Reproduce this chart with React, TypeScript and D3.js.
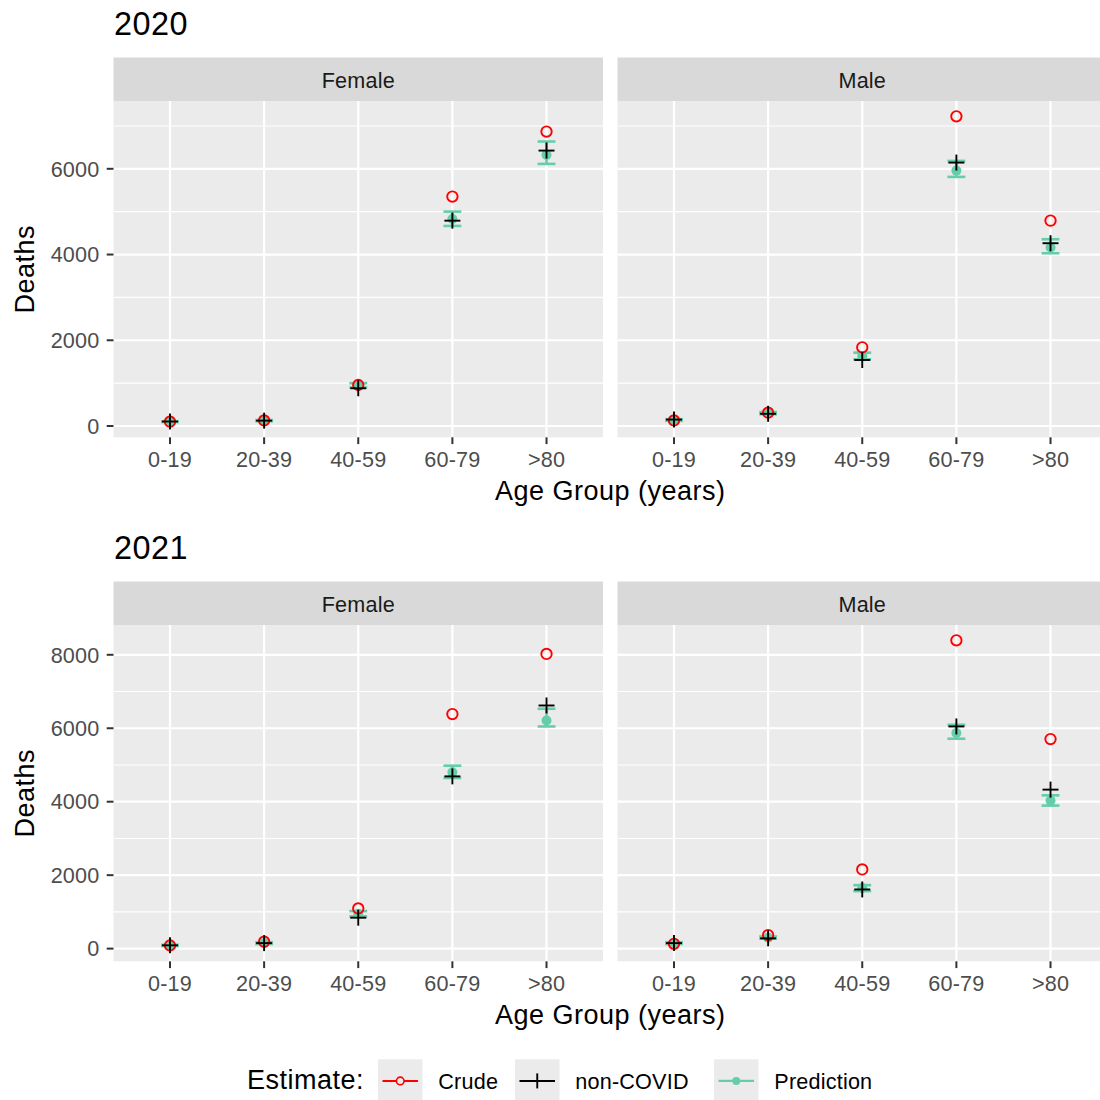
import React from "react";
import * as d3 from "d3";

const ageGroups = ["0-19", "20-39", "40-59", "60-79", ">80"];
const sexes = ["Female", "Male"];
const years = ["2020", "2021"];

// 2020
const crude2020Female = [100, 130, 957, 5352, 6869];
const nonCovid2020Female = [105, 125, 880, 4790, 6425];
const pred2020Female = [100, 125, 950, 4830, 6324];
const predLo2020Female = [93, 110, 900, 4667, 6114];
const predHi2020Female = [108, 140, 1000, 5001, 6636];

const crude2020Male = [130, 311, 1836, 7225, 4791];
const nonCovid2020Male = [150, 285, 1540, 6145, 4264];
const pred2020Male = [140, 300, 1630, 5958, 4162];
const predLo2020Male = [120, 275, 1556, 5811, 4030];
const predHi2020Male = [160, 325, 1711, 6184, 4357];

// 2021
const crude2021Female = [85, 190, 1095, 6386, 8024];
const nonCovid2021Female = [90, 150, 842, 4690, 6620];
const pred2021Female = [88, 150, 950, 4799, 6212];
const predLo2021Female = [71, 125, 878, 4646, 6049];
const predHi2021Female = [105, 175, 1022, 4981, 6530];

const crude2021Male = [130, 370, 2155, 8395, 5706];
const nonCovid2021Male = [150, 280, 1611, 6049, 4329];
const pred2021Male = [150, 299, 1650, 5869, 4030];
const predLo2021Male = [125, 270, 1566, 5715, 3894];
const predHi2021Male = [175, 330, 1729, 6095, 4174];

const legendLabels = ["Crude", "non-COVID", "Prediction"];

const panelData: Record<string, Record<string, any>> = {
  "2020": {
    Female: { crude: crude2020Female, non: nonCovid2020Female, pred: pred2020Female, lo: predLo2020Female, hi: predHi2020Female },
    Male: { crude: crude2020Male, non: nonCovid2020Male, pred: pred2020Male, lo: predLo2020Male, hi: predHi2020Male },
  },
  "2021": {
    Female: { crude: crude2021Female, non: nonCovid2021Female, pred: pred2021Female, lo: predLo2021Female, hi: predHi2021Female },
    Male: { crude: crude2021Male, non: nonCovid2021Male, pred: pred2021Male, lo: predLo2021Male, hi: predHi2021Male },
  },
};

const RED = "#FF0000";
const TEAL = "#66CDAA";
const FONT = "'Liberation Sans', Arial, Helvetica, sans-serif";
const BASE = 27;
const SMALL = 21.6;
const LS_BASE = 0.5;
const LS_SMALL = 0.2;

const panelX: Record<string, [number, number]> = {
  Female: [113.5, 603],
  Male: [617.5, 1107],
};
const yearOffset: Record<string, number> = { "2020": 0, "2021": 524 };
const STRIP_TOP = 57.5;
const PANEL_TOP = 101;
const PANEL_BOTTOM = 437.3;

function Plus({ x, y, s = 8 }: { x: number; y: number; s?: number }) {
  return (
    <g stroke="#000" strokeWidth={1.9}>
      <line x1={x - s} x2={x + s} y1={y} y2={y} />
      <line x1={x} x2={x} y1={y - s} y2={y + s} />
    </g>
  );
}

function YearBlock({ year }: { year: string }) {
  const off = yearOffset[year];
  const top = PANEL_TOP + off;
  const bottom = PANEL_BOTTOM + off;
  const stripTop = STRIP_TOP + off;
  const d = panelData[year];
  const all: number[] = [];
  sexes.forEach((s) => {
    const p = d[s];
    all.push(...p.crude, ...p.non, ...p.pred, ...p.lo, ...p.hi);
  });
  const mn = d3.min(all)!;
  const mx = d3.max(all)!;
  const r = mx - mn;
  const y = d3.scaleLinear().domain([mn - 0.05 * r, mx + 0.05 * r]).range([bottom, top]);
  const majors = y.ticks(5);
  const step = majors[1] - majors[0];
  const minors: number[] = [];
  const [d0, d1] = y.domain();
  for (let v = majors[0] - step / 2; v <= d1; v += step) {
    if (v >= d0 && v <= d1) minors.push(v);
  }

  return (
    <g>
      <text x={114} y={top - 66} fontSize={32.4} fill="#000" fontFamily={FONT} letterSpacing={LS_BASE}>
        {year}
      </text>
      {sexes.map((sex) => {
        const [x0, x1] = panelX[sex];
        const x = d3.scalePoint<string>().domain(ageGroups).range([x0, x1]).padding(0.6);
        const stepX = x.step();
        const cw = stepX * 0.19;
        const p = d[sex];
        return (
          <g key={sex}>
            <rect x={x0} y={stripTop} width={x1 - x0} height={top - stripTop} fill="#D9D9D9" />
            <text x={(x0 + x1) / 2} y={stripTop + 30.2} textAnchor="middle" fontSize={SMALL} fill="#1A1A1A" fontFamily={FONT} letterSpacing={LS_SMALL}>
              {sex}
            </text>
            <rect x={x0} y={top} width={x1 - x0} height={bottom - top} fill="#EBEBEB" />
            {minors.map((v) => (
              <line key={"mi" + v} x1={x0} x2={x1} y1={y(v)} y2={y(v)} stroke="#fff" strokeWidth={1.1} />
            ))}
            {majors.map((v) => (
              <line key={"ma" + v} x1={x0} x2={x1} y1={y(v)} y2={y(v)} stroke="#fff" strokeWidth={2.2} />
            ))}
            {ageGroups.map((g) => (
              <line key={"gx" + g} x1={x(g)} x2={x(g)} y1={top} y2={bottom} stroke="#fff" strokeWidth={2.2} />
            ))}
            {/* x ticks */}
            {ageGroups.map((g) => (
              <g key={"xt" + g}>
                <line x1={x(g)} x2={x(g)} y1={bottom} y2={bottom + 6.8} stroke="#333" strokeWidth={2} />
                <text x={x(g)} y={bottom + 29.4} textAnchor="middle" fontSize={SMALL} fill="#4D4D4D" fontFamily={FONT} letterSpacing={LS_SMALL}>
                  {g}
                </text>
              </g>
            ))}
            {/* error bars */}
            {ageGroups.map((g, i) => (
              <g key={"eb" + g} stroke={TEAL} strokeWidth={2.6}>
                <line x1={x(g)} x2={x(g)} y1={y(p.lo[i])} y2={y(p.hi[i])} />
                <line x1={x(g)! - cw / 2} x2={x(g)! + cw / 2} y1={y(p.lo[i])} y2={y(p.lo[i])} />
                <line x1={x(g)! - cw / 2} x2={x(g)! + cw / 2} y1={y(p.hi[i])} y2={y(p.hi[i])} />
              </g>
            ))}
            {ageGroups.map((g, i) => (
              <circle key={"pr" + g} cx={x(g)} cy={y(p.pred[i])} r={5} fill={TEAL} />
            ))}
            {ageGroups.map((g, i) => (
              <circle key={"cr" + g} cx={x(g)} cy={y(p.crude[i])} r={5.2} fill="none" stroke={RED} strokeWidth={1.9} />
            ))}
            {ageGroups.map((g, i) => (
              <Plus key={"nc" + g} x={x(g)!} y={y(p.non[i])} />
            ))}
          </g>
        );
      })}
      {/* y axis (left only) */}
      {majors.map((v) => (
        <g key={"yt" + v}>
          <line x1={106.7} x2={113.5} y1={y(v)} y2={y(v)} stroke="#333" strokeWidth={2} />
          <text x={99.5} y={y(v)} dy="0.36em" textAnchor="end" fontSize={SMALL} fill="#4D4D4D" fontFamily={FONT} letterSpacing={LS_SMALL}>
            {v}
          </text>
        </g>
      ))}
      <text
        transform={`translate(34, ${(top + bottom) / 2}) rotate(-90)`}
        textAnchor="middle"
        fontSize={BASE}
        fill="#000"
        fontFamily={FONT}
        letterSpacing={LS_BASE}
      >
        Deaths
      </text>
      <text x={(113.5 + 1107) / 2} y={bottom + 62.7} textAnchor="middle" fontSize={BASE} fill="#000" fontFamily={FONT} letterSpacing={LS_BASE}>
        Age Group (years)
      </text>
    </g>
  );
}

function Legend() {
  const keyX = [378, 515, 714];
  const keyTop = 1059.3;
  const keyW = 44.5;
  const keyH = 42.4;
  const cy = keyTop + 21.6;
  return (
    <g fontFamily={FONT}>
      <text x={247} y={1089.3} fontSize={BASE} fill="#000" letterSpacing={LS_BASE}>
        Estimate:
      </text>
      {legendLabels.map((lab, i) => {
        const kx = keyX[i];
        const cx = kx + keyW / 2;
        return (
          <g key={lab}>
            <rect x={kx} y={keyTop} width={keyW} height={keyH} fill="#EBEBEB" />
            {i === 0 && (
              <g>
                <line x1={kx + 4.5} x2={kx + keyW - 4.5} y1={cy} y2={cy} stroke={RED} strokeWidth={2} />
                <circle cx={cx} cy={cy} r={3.8} fill="#EBEBEB" stroke={RED} strokeWidth={1.6} />
              </g>
            )}
            {i === 1 && (
              <g>
                <line x1={kx + 4.5} x2={kx + keyW - 4.5} y1={cy} y2={cy} stroke="#000" strokeWidth={2} />
                <line x1={cx} x2={cx} y1={cy - 7.5} y2={cy + 7.5} stroke="#000" strokeWidth={1.9} />
              </g>
            )}
            {i === 2 && (
              <g>
                <line x1={kx + 4.5} x2={kx + keyW - 4.5} y1={cy} y2={cy} stroke={TEAL} strokeWidth={2.4} />
                <circle cx={cx} cy={cy} r={4} fill={TEAL} />
              </g>
            )}
            <text x={kx + 60.3} y={1088.5} fontSize={SMALL} fill="#000" letterSpacing={LS_SMALL}>
              {lab}
            </text>
          </g>
        );
      })}
    </g>
  );
}

export default function App() {
  return (
    <svg
      width={1100}
      height={1100}
      style={{ position: "absolute", left: 0, top: 0, background: "#fff" }}
      fontFamily={FONT}
    >
      <rect x={0} y={0} width={1100} height={1100} fill="#fff" />
      {years.map((yr) => (
        <YearBlock key={yr} year={yr} />
      ))}
      <Legend />
    </svg>
  );
}
